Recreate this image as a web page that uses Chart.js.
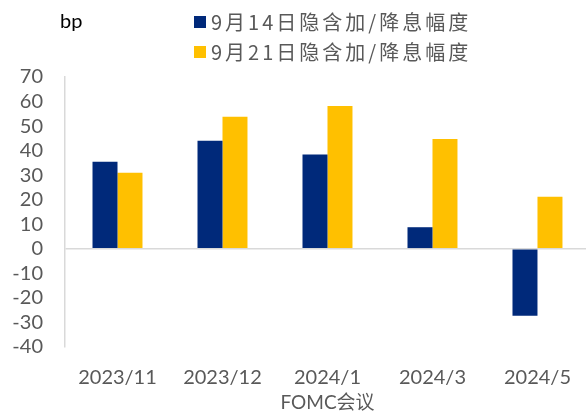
<!DOCTYPE html>
<html>
<head>
<meta charset="utf-8">
<script src="https://cdn.jsdelivr.net/npm/chart.js@4/dist/chart.umd.min.js"></script>
<style>
  html, body { margin: 0; padding: 0; background: #fff; overflow: hidden; }
  #wrap { width: 590px; height: 414px; }
</style>
</head>
<body>
<div id="wrap"><canvas id="rateChart"></canvas></div>
<script>
const labels = ["2023/11", "2023/12", "2024/1", "2024/3", "2024/5"];
const sep14 = [35.5, 44, 38.4, 8.8, -27.3];
const sep21 = [31, 53.8, 58.2, 44.7, 21.2];
const seriesNames = ["9月14日隐含加/降息幅度", "9月21日隐含加/降息幅度"];
const seriesColors = ["#00297A", "#FFC000"];

// legend + "bp" unit are drawn by hand (two stacked rows)
const topLegend = {
    id: "topLegend",
    afterDraw(chart) {
        const ctx = chart.ctx;
        ctx.save();
        ctx.textBaseline = "middle";
        ctx.fillStyle = "#000000";
        ctx.font = "20px Lato";
        ctx.fillText("bp", 60, 22);
        ctx.font = "20px 'Noto Sans CJK SC'";
        ctx.letterSpacing = "3px";
        chart.data.datasets.forEach((ds, i) => {
            const y = 22 + i * 30;
            ctx.fillStyle = ds.backgroundColor;
            ctx.fillRect(194, y - 6, 12, 12);
            ctx.fillStyle = "#595959";
            ctx.fillText(ds.label, 211, y);
        });
        ctx.restore();
    }
};

const data = {
    labels: labels,
    datasets: [
        {
            label: seriesNames[0],
            data: sep14,
            backgroundColor: seriesColors[0],
        },
        {
            label: seriesNames[1],
            data: sep21,
            backgroundColor: seriesColors[1],
        },
    ],
};

const config = {
    type: "bar",
    data: data,
    options: {
        responsive: true,
        maintainAspectRatio: false,
        animation: false,
        barPercentage: 1,
        categoryPercentage: 0.476,
        layout: {
            padding: { top: 77, left: 0, right: 0, bottom: 0 }
        },
        plugins: {
            legend: { display: false },
            tooltip: { enabled: false },
        },
        scales: {
            x: {
                afterFit: (scale) => { scale.height = 67; },
                grid: { display: false, drawTicks: false },
                border: { display: false },
                ticks: {
                    color: "#595959",
                    font: { family: "Lato", size: 20 },
                    padding: 19,
                    autoSkip: false,
                    maxRotation: 0,
                    minRotation: 0,
                },
                title: {
                    display: true,
                    text: "FOMC会议",
                    color: "#595959",
                    font: { family: "Lato, 'Noto Sans CJK SC'", size: 19 },
                    padding: { top: 0, bottom: 0 },
                },
            },
            y: {
                min: -40,
                max: 70,
                afterFit: (scale) => { scale.width = 65; },
                ticks: {
                    stepSize: 10,
                    autoSkip: false,
                    color: "#595959",
                    font: { family: "Lato", size: 20 },
                    padding: 22,
                },
                grid: {
                    drawTicks: false,
                    lineWidth: 1.5,
                    color: (c) => (c.tick && c.tick.value === 0 ? "#D9D9D9" : "rgba(0,0,0,0)"),
                },
                border: { display: true, color: "#D9D9D9", width: 1.5 },
            },
        },
    },
    plugins: [topLegend],
};

new Chart(document.getElementById("rateChart"), config);
</script>
</body>
</html>
